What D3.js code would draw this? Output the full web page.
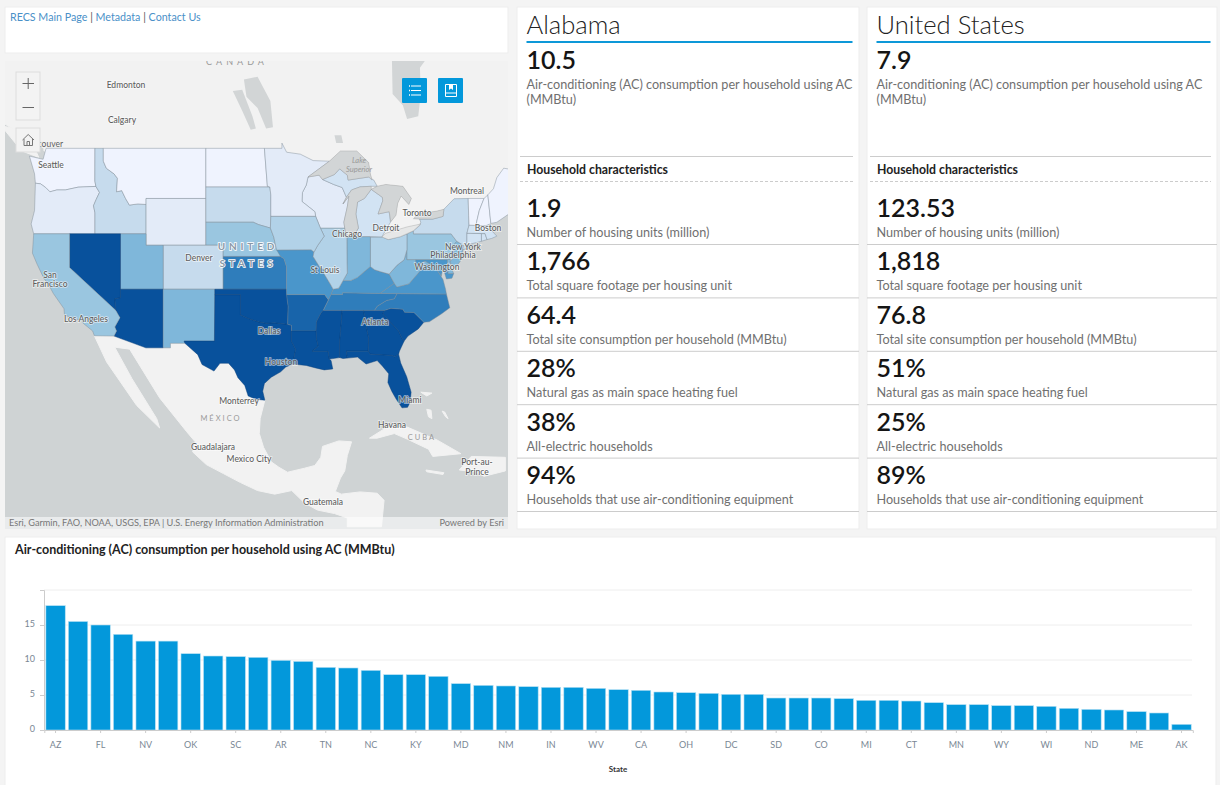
<!DOCTYPE html>
<html>

<head>
    <title>RECS state dashboard</title>
    <script src="https://cdnjs.cloudflare.com/ajax/libs/d3/7.8.5/d3.min.js"></script>
    <style>
        html, body { margin: 0; padding: 0; background: #f4f4f4; overflow: hidden; }
        svg { display: block; font-family: Lato, "Open Sans", sans-serif; }
    </style>
</head>

<body>
    <svg id="viz" width="1220" height="785"></svg>
    <script>
        // bar chart
        var states = ["AZ","TX","FL","LA","NV","MS","OK","AL","SC","GA","AR","HI","TN","VA","NC","MO","KY","DE","MD","KS","NM","UT","IN","IL","WV","NJ","CA","NE","OH","IA","DC","PA","SD","ID","CO","OR","MI","NY","CT","MA","MN","RI","WY","NH","WI","VT","ND","WA","ME","MT","AK"]
        var consumption = [17.76,15.5,15.0,13.67,12.7,12.7,10.9,10.57,10.48,10.38,9.95,9.8,8.95,8.86,8.52,7.9,7.9,7.67,6.62,6.38,6.29,6.19,6.1,6.1,5.95,5.76,5.67,5.43,5.33,5.24,5.1,5.1,4.57,4.57,4.57,4.48,4.24,4.24,4.14,3.9,3.62,3.62,3.48,3.48,3.38,3.1,2.95,2.86,2.62,2.43,0.81]
        var yTicks = [0, 5, 10, 15, 20]
        var xLabels = ["AZ","FL","NV","OK","SC","AR","TN","NC","KY","MD","NM","IN","WV","CA","OH","DC","SD","CO","MI","CT","MN","WY","WI","ND","ME","AK"]

        // cards
        var cardNames = ["Alabama", "United States"]
        var headlineLabel = ["Air-conditioning (AC) consumption per household using AC", "(MMBtu)"]
        var headlineValues = ["10.5", "7.9"]
        var rowLabels = ["Number of housing units (million)", "Total square footage per housing unit", "Total site consumption per household (MMBtu)", "Natural gas as main space heating fuel", "All-electric households", "Households that use air-conditioning equipment"]
        var alabamaValues = ["1.9", "1,766", "64.4", "28%", "38%", "94%"]
        var usValues = ["123.53", "1,818", "76.8", "51%", "25%", "89%"]

        // map classes, light to dark
        var mapColors = ["#eff3fe","#e3ebf8","#d2e3f3","#c6dbed","#b2d2e8","#9ac6e0","#7fb7da","#4a96cb","#2f7dbb","#1864aa","#08519c"]

        // outlines in [lon, lat]
        var statesGeo = {
            WA: [0, [[-124.7,48.4],[-123.1,48.15],[-122.75,49],[-117.03,49],[-117.04,46.42],[-116.92,45.99],[-119,45.93],[-120.5,45.7],[-121.5,45.7],[-122.3,45.55],[-122.8,45.9],[-123.4,46.2],[-124,46.25],[-124.1,47]]],
            OR: [1, [[-124,46.25],[-123.4,46.2],[-122.8,45.9],[-122.3,45.55],[-121.5,45.7],[-120.5,45.7],[-119,45.93],[-116.92,45.99],[-116.5,45.5],[-116.9,44.9],[-117.2,44.4],[-117.03,43.8],[-117.03,42],[-124.2,42],[-124.5,42.85],[-124.1,44]]],
            ID: [3, [[-117.03,49],[-116.05,49],[-116.05,48],[-115.7,47.45],[-114.8,47],[-114.4,46.65],[-114.5,45.55],[-113.9,45.65],[-113.45,45],[-113,44.45],[-112,44.55],[-111.05,44.5],[-111.05,42],[-117.03,42],[-117.03,43.8],[-117.2,44.4],[-116.9,44.9],[-116.5,45.5],[-116.92,45.99],[-117.04,46.42]]],
            MT: [0, [[-116.05,49],[-104.05,49],[-104.05,45],[-111.05,45],[-111.05,44.5],[-112,44.55],[-113,44.45],[-113.45,45],[-113.9,45.65],[-114.5,45.55],[-114.4,46.65],[-114.8,47],[-115.7,47.45],[-116.05,48]]],
            WY: [1, [[-111.05,45],[-104.05,45],[-104.05,41],[-111.05,41]]],
            ND: [0, [[-104.05,49],[-97.2,49],[-96.85,46],[-96.56,45.94],[-104.05,45.94]]],
            SD: [3, [[-104.05,45.94],[-96.56,45.94],[-96.45,45.3],[-96.45,43.5],[-96.5,42.5],[-97.9,42.8],[-98.5,43],[-104.05,43]]],
            NE: [5, [[-104.05,43],[-98.5,43],[-97.9,42.8],[-96.5,42.5],[-96.1,41.7],[-95.9,41],[-95.3,40],[-102.05,40],[-102.05,41],[-104.05,41]]],
            KS: [8, [[-102.05,40],[-95.3,40],[-94.9,39.8],[-94.62,39.1],[-94.62,37],[-102.05,37]]],
            CO: [3, [[-109.05,41],[-102.05,41],[-102.05,37],[-109.05,37]]],
            UT: [6, [[-114.05,42],[-111.05,42],[-111.05,41],[-109.05,41],[-109.05,37],[-114.05,37]]],
            NV: [10, [[-120,42],[-114.05,42],[-114.05,36.2],[-114.7,36.1],[-114.6,35],[-120,39]]],
            AZ: [10, [[-114.05,37],[-109.05,37],[-109.05,31.33],[-111.07,31.33],[-114.8,32.5],[-114.5,33],[-114.7,33.4],[-114.1,34.3],[-114.6,35],[-114.7,36.1],[-114.05,36.2]]],
            CA: [5, [[-124.2,42],[-120,42],[-120,39],[-114.6,35],[-114.1,34.3],[-114.7,33.4],[-114.5,33],[-114.8,32.5],[-117.1,32.53],[-117.3,33],[-118.4,33.75],[-118.5,34.03],[-119.2,34.15],[-120.6,34.55],[-120.65,35.15],[-121.9,36.6],[-122.5,37.5],[-123,38],[-123.8,39.3],[-124.35,40.3]]],
            NM: [6, [[-109.05,37],[-103,37],[-103.05,32],[-106.6,32],[-106.5,31.78],[-108.2,31.78],[-108.2,31.33],[-109.05,31.33]]],
            TX: [10, [[-103,36.5],[-100,36.5],[-100,34.56],[-99,34.2],[-97.9,33.9],[-97,33.75],[-96,33.8],[-94.48,33.65],[-94.04,33.55],[-94.04,31.99],[-93.55,31.2],[-93.7,30.5],[-93.85,29.7],[-94.7,29.4],[-95.3,28.9],[-96.4,28.35],[-97.2,27.7],[-97.4,26.9],[-97.15,25.96],[-98.2,26.05],[-99.1,26.4],[-99.5,27.5],[-100.3,28.3],[-100.7,29.1],[-101.4,29.77],[-102.4,29.77],[-103.1,28.98],[-104.5,29.65],[-105,30.65],[-106.5,31.78],[-106.6,32],[-103.05,32]]],
            OK: [10, [[-103,37],[-94.62,37],[-94.43,35.4],[-94.48,33.65],[-96,33.8],[-97,33.75],[-97.9,33.9],[-99,34.2],[-100,34.56],[-100,36.5],[-103,36.5]]],
            AR: [9, [[-94.62,36.5],[-90.15,36.5],[-89.7,36],[-90.3,35],[-90.6,34.7],[-91.1,33.9],[-91.15,33],[-94.04,33],[-94.04,33.55],[-94.48,33.65],[-94.43,35.4]]],
            MO: [7, [[-95.77,40.58],[-91.73,40.6],[-91.4,40.4],[-91.5,40],[-90.7,39],[-90.2,38.8],[-90.2,38.4],[-89.5,37.5],[-89.15,37],[-89.4,36.5],[-89.7,36],[-90.15,36.5],[-94.62,36.5],[-94.62,39.1],[-94.9,39.8],[-95.3,40]]],
            LA: [10, [[-94.04,33],[-91.15,33],[-91.1,32.2],[-90.9,31.5],[-91.6,31],[-89.75,31],[-89.6,30.2],[-89.4,30.05],[-89.2,29.2],[-90.2,29.1],[-91.2,29.3],[-92.3,29.55],[-93.85,29.7],[-93.7,30.5],[-93.55,31.2],[-94.04,31.99]]],
            MS: [10, [[-91.15,33],[-91.1,33.9],[-90.6,34.7],[-90.3,35],[-88.2,35],[-88.1,34.9],[-88.4,31.9],[-88.4,30.35],[-89.6,30.2],[-89.75,31],[-91.6,31],[-90.9,31.5],[-91.1,32.2]]],
            AL: [10, [[-88.2,35],[-85.6,35],[-85.15,32.9],[-85,32.3],[-85.05,31],[-87.6,31],[-87.5,30.3],[-88,30.25],[-88.4,30.35],[-88.4,31.9],[-88.1,34.9]]],
            GA: [10, [[-85.6,35],[-83.1,35],[-83.35,34.7],[-82.5,33.9],[-81.5,33],[-81,32.1],[-80.85,32],[-81.4,31],[-81.5,30.7],[-82,30.4],[-82.2,30.55],[-84.85,30.7],[-85.05,31],[-85,32.3],[-85.15,32.9]]],
            FL: [10, [[-87.6,31],[-85.05,31],[-84.85,30.7],[-82.2,30.55],[-82,30.4],[-81.5,30.7],[-81.25,29.8],[-80.55,28.4],[-80.03,26.8],[-80.15,25.75],[-80.45,25.2],[-81.1,25.15],[-81.8,26.1],[-82.3,26.9],[-82.75,27.8],[-82.65,28.7],[-83.4,29.5],[-84,30.05],[-85.3,29.7],[-86.3,30.4],[-87.5,30.3]]],
            SC: [10, [[-83.35,34.7],[-83.1,35],[-82.4,35.2],[-81,35.1],[-80.8,34.82],[-79.7,34.8],[-78.55,33.85],[-79.2,33.2],[-80.4,32.5],[-80.85,32],[-81,32.1],[-81.5,33],[-82.5,33.9]]],
            NC: [8, [[-81.68,36.59],[-75.9,36.55],[-75.5,35.25],[-76.5,34.65],[-77.9,33.9],[-78.55,33.85],[-79.7,34.8],[-80.8,34.82],[-81,35.1],[-82.4,35.2],[-83.1,35],[-84.32,35],[-84,35.4],[-82.9,35.95],[-82,36.1]]],
            TN: [8, [[-89.4,36.5],[-88.05,36.5],[-88.05,36.68],[-83.68,36.6],[-81.68,36.59],[-82,36.1],[-82.9,35.95],[-84,35.4],[-84.32,35],[-85.6,35],[-88.2,35],[-90.3,35],[-89.7,36]]],
            KY: [7, [[-89.4,36.5],[-89.15,37],[-88.5,37.1],[-88,37.8],[-87.1,37.8],[-86.3,38.1],[-85.4,38.7],[-84.8,39.1],[-84.3,38.8],[-83.65,38.63],[-82.6,38.4],[-82,37.55],[-83.68,36.6],[-88.05,36.68],[-88.05,36.5]]],
            VA: [7, [[-83.68,36.6],[-82,37.55],[-81.7,37.2],[-80.3,37.5],[-79.3,38.4],[-78.4,39.2],[-77.75,39.3],[-77.05,38.85],[-76.3,37.9],[-76,37],[-75.9,36.55],[-81.68,36.59]]],
            WV: [6, [[-82.6,38.4],[-81.7,39.2],[-80.85,39.7],[-80.52,40.6],[-80.52,39.72],[-79.48,39.72],[-79.48,39.2],[-78.4,39.6],[-77.75,39.3],[-78.4,39.2],[-79.3,38.4],[-80.3,37.5],[-81.7,37.2],[-82,37.55]]],
            MD: [7, [[-79.48,39.72],[-75.79,39.72],[-75.7,38.45],[-75.05,38.45],[-75.25,38.03],[-75.9,37.95],[-76.3,39],[-76.5,38.2],[-77.05,38.85],[-77.75,39.3],[-78.4,39.6],[-79.48,39.2]]],
            DE: [6, [[-75.79,39.72],[-75.45,39.8],[-75.4,39.1],[-75.05,38.45],[-75.7,38.45]]],
            PA: [5, [[-80.52,41.98],[-79.76,42.27],[-79.76,42],[-75.35,42],[-74.7,41.35],[-75.1,40.95],[-75.1,40.2],[-74.75,40.2],[-75.45,39.8],[-75.79,39.72],[-80.52,39.72]]],
            NJ: [6, [[-75.1,40.95],[-74.7,41.35],[-73.9,41],[-74,40.45],[-74.1,39.75],[-74.9,38.95],[-75.5,39.5],[-74.75,40.2],[-75.1,40.2]]],
            NY: [3, [[-79.76,42.27],[-79.05,42.7],[-78.9,43],[-79.05,43.27],[-77.5,43.27],[-76.3,43.5],[-76.2,44.1],[-75,44.98],[-73.35,45],[-73.3,43.6],[-73.25,42.75],[-73.5,42.05],[-73.5,41.3],[-73.65,41],[-72,41.05],[-74,40.6],[-73.9,41],[-74.7,41.35],[-75.35,42],[-79.76,42]]],
            CT: [2, [[-73.5,42.05],[-71.8,42.02],[-71.8,41.35],[-73.65,41],[-73.5,41.3]]],
            RI: [2, [[-71.8,42.02],[-71.38,42.02],[-71.15,41.5],[-71.8,41.35]]],
            MA: [2, [[-73.25,42.75],[-71.3,42.7],[-70.8,42.85],[-70.65,42.3],[-70,41.8],[-70.6,41.6],[-71.15,41.5],[-71.38,42.02],[-73.5,42.05]]],
            VT: [0, [[-73.35,45],[-71.5,45],[-72.05,44],[-72.46,42.73],[-73.25,42.75],[-73.3,43.6]]],
            NH: [0, [[-71.5,45],[-71.05,45.3],[-70.7,42.9],[-70.8,42.85],[-71.3,42.7],[-72.46,42.73],[-72.05,44]]],
            ME: [0, [[-71.05,45.3],[-70.4,45.8],[-70,46.7],[-69.2,47.45],[-68.3,47.35],[-67.8,47.05],[-67.8,45.7],[-67,44.9],[-67.5,44.2],[-68.5,43.75],[-70,43],[-70.7,42.9]]],
            OH: [4, [[-84.8,41.7],[-83.45,41.73],[-82.7,41.5],[-81.3,41.75],[-80.52,41.98],[-80.52,40.6],[-80.85,39.7],[-81.7,39.2],[-82.6,38.4],[-83.65,38.63],[-84.3,38.8],[-84.8,39.1]]],
            IN: [6, [[-87.53,41.7],[-86.8,41.76],[-84.8,41.76],[-84.8,39.1],[-85.4,38.7],[-86.3,38.1],[-87.1,37.8],[-88,37.8],[-87.5,38.5],[-87.53,39.4]]],
            IL: [4, [[-90.65,42.5],[-87.8,42.5],[-87.55,41.7],[-87.53,39.4],[-87.5,38.5],[-88,37.8],[-88.5,37.1],[-89.15,37],[-89.5,37.5],[-90.2,38.4],[-90.2,38.8],[-90.7,39],[-91.5,40],[-91.4,40.4],[-90.95,41],[-90.2,41.8]]],
            WI: [1, [[-92.1,46.75],[-90.8,46.9],[-90.4,46.55],[-89.1,46.15],[-88.1,45.9],[-87.6,45.1],[-88,44.55],[-87.3,45.2],[-87.5,44.3],[-87.9,43],[-87.8,42.5],[-90.65,42.5],[-91.2,43.5],[-91.3,43.9],[-92.8,44.75],[-92.75,45.5],[-92.3,46.1]]],
            MN: [1, [[-97.2,49],[-95.15,49],[-95.15,49.4],[-94.6,48.7],[-93,48.55],[-91.5,48.05],[-89.6,48],[-92.1,46.75],[-92.3,46.1],[-92.75,45.5],[-92.8,44.75],[-91.3,43.9],[-91.2,43.5],[-96.45,43.5],[-96.45,45.3],[-96.56,45.94],[-96.85,46]]],
            IA: [4, [[-96.45,43.5],[-91.2,43.5],[-90.65,42.5],[-90.2,41.8],[-90.95,41],[-91.4,40.4],[-91.73,40.6],[-95.77,40.58],[-95.9,41],[-96.1,41.7],[-96.5,42.5]]],
            MI: [2, [[-86.8,41.76],[-84.8,41.76],[-83.45,41.73],[-83.1,42.2],[-82.45,43],[-82.6,43.9],[-83.9,43.7],[-83.35,44.8],[-83.4,45.1],[-84.7,45.75],[-85.5,45],[-86.3,44.7],[-86.5,43.7],[-86.2,42.5]]],
            MIU: [2, [[-90.4,46.55],[-89,46.95],[-88.4,47.4],[-87.5,46.9],[-87.4,46.5],[-86,46.65],[-85,46.75],[-84.4,46.5],[-84,46],[-84.7,46],[-86,45.95],[-87,45.7],[-87.6,45.1],[-88.1,45.9],[-89.1,46.15]]]
        }

        var landGeo = [
            [[-135,56],[-135,53],[-128,51],[-125.5,50],[-123,49],[-123,48.8],[-100,46],[-84,42],[-79,41],[-73,42],[-70,43.5],[-68.4,44],[-60,45],[-60,56]],
            [[-123.6,48.3],[-125.6,48.8],[-128,50.7],[-125,50.3]],
            [[-117.1,32.53],[-114.8,32.5],[-111.07,31.33],[-108.2,31.33],[-108.2,31.78],[-106.5,31.78],[-105,30.65],[-104.5,29.65],[-103.1,28.98],[-102.4,29.77],[-101.4,29.77],[-100.7,29.1],[-100.3,28.3],[-99.5,27.5],[-99.1,26.4],[-98.2,26.05],[-97.15,25.96],[-97.7,24],[-97.8,22.4],[-97.3,20.9],[-96.4,19.3],[-95.5,18.7],[-94.5,18.15],[-92.5,18.6],[-91.3,18.9],[-90.6,19.8],[-90.4,21],[-88.5,21.6],[-87,21.5],[-87.5,20],[-87.8,18.3],[-88.3,17.5],[-88.9,16],[-88.2,15.7],[-86,15.95],[-84,15.8],[-83.2,15],[-83.5,12],[-87.5,12],[-87.5,13],[-89,13.5],[-91,13.9],[-92.5,14.7],[-94,16.1],[-96,15.7],[-98,16.1],[-100,17],[-102,18],[-104,19],[-105.6,20.4],[-105.3,21.5],[-106.3,22.6],[-109.46,26.2],[-112.97,31.2],[-114.72,31.4],[-112.7,28.2],[-109.8,24],[-109.46,23],[-112.15,25.4],[-115.66,29.9]],
            [[-84.9,21.9],[-83,23],[-80.5,23.1],[-77,21.7],[-74.2,20.2],[-77.5,19.9],[-78,20.7],[-80.5,21.8],[-82,22.4],[-84,21.9]],
            [[-74.4,18.4],[-73,19.9],[-69,19.8],[-69,18.3],[-71.5,17.7],[-72.5,18.2]],
            [[-78.3,18.4],[-76.2,18.1],[-76.3,17.9],[-78.2,18.2]],
            [[-78.9,26.8],[-77.6,26.7],[-78.2,26.4]],
            [[-78.2,25],[-77.7,24.9],[-77.6,24],[-78,24.2]],
            [[-76.4,24.8],[-76.1,24.7],[-75.7,24],[-76,24.2]]
        ]

        var lakesGeo = [
            [[-92.1,46.75],[-90.8,46.9],[-90.4,46.55],[-89,46.95],[-88.4,47.4],[-87.5,46.9],[-87.4,46.5],[-86,46.65],[-85,46.75],[-84.6,46.5],[-84.8,47],[-85,47.9],[-86.4,48.8],[-88.3,48.8],[-89.6,48]],
            [[-87.6,45.1],[-87,45.7],[-86,45.95],[-84.7,46],[-84.7,45.75],[-85.5,45],[-86.3,44.7],[-86.5,43.7],[-86.2,42.5],[-86.8,41.76],[-87.55,41.7],[-87.8,42.5],[-87.9,43],[-87.5,44.3],[-87.3,45.2],[-88,44.55]],
            [[-84.7,45.75],[-84,46],[-83,46.15],[-81,46],[-80,45],[-80.3,44.5],[-81.2,45.2],[-81.6,44.6],[-81.8,43.6],[-82.4,43.05],[-82.6,43.9],[-83.9,43.7],[-83.35,44.8],[-83.4,45.1]],
            [[-79.76,43.3],[-79.05,43.27],[-77.5,43.27],[-76.3,43.5],[-76.2,44.1],[-77,43.95],[-79.2,43.7]],
            [[-83.45,41.73],[-82.7,41.5],[-81.3,41.75],[-79.76,42.27],[-78.9,42.85],[-80.5,42.6],[-83,42.05]],
            [[-82.3,56],[-82.2,53],[-81,52.2],[-80.5,51.2],[-79.2,51.4],[-78.9,53],[-79,54.8],[-77.5,56]],
            [[-99.6,54],[-98,54.2],[-96.5,52.5],[-96.2,50.6],[-97,50.5],[-98,52],[-99.3,52.8]],
            [[-100.9,53.2],[-99.8,53.3],[-98.6,51.4],[-98.2,50.5],[-98.8,50.4],[-99.8,51.8]],
            [[-89,50],[-88.2,50],[-88,49.4],[-88.8,49.4]]
        ]
        var erie = lakesGeo[4]

        var mapLabels = [
            ["Edmonton",126,86],["Calgary",122,121],["Seattle",51,166],["Montreal",467,192],["Toronto",417,214],["Boston",488,229],
            ["Chicago",347,235],["Detroit",386,229],["New York",463,248],["Philadelphia",453,256],["Washington",437,268],["Denver",199,259],
            ["St Louis",325,271],["San",50,276],["Francisco",50,285],["Los Angeles",86,320],["Dallas",269,332],["Houston",281,363],
            ["Atlanta",375,323],["Miami",410,401],["Monterrey",239,402],["Havana",392,426],["Guadalajara",213,448],["Mexico City",249,460],
            ["Port-au-",477,463],["Prince",477,473],["Guatemala",323,503]
        ]
        var countryLabels = [["CANADA",237,63],["MÉXICO",221,419],["CUBA",422,438]]

        var svg = d3.select("#viz")

        function panel(x, y, w, h) {
            svg.append("rect").attr("x", x).attr("y", y).attr("width", w).attr("height", h)
                .attr("fill", "white").attr("stroke", "#ededed")
        }

        // links panel
        panel(5, 7, 503, 46)
        var links = svg.append("text").attr("x", 10).attr("y", 21).style("font-size", "10.7px").attr("fill", "#4a90c8")
        links.append("tspan").text("RECS Main Page ")
        links.append("tspan").attr("fill", "#555").text("| ")
        links.append("tspan").text("Metadata ")
        links.append("tspan").attr("fill", "#555").text("| ")
        links.append("tspan").text("Contact Us")

        // map
        var mercator = d3.geoMercator().scale(489.6).translate([1095, 630])
        var outline = pts => d3.line()(pts.map(p => mercator(p))) + "Z"

        svg.append("clipPath").attr("id", "mapClip").append("rect")
            .attr("x", 5).attr("y", 61).attr("width", 503).attr("height", 468)

        var map = svg.append("g").attr("clip-path", "url(#mapClip)")
        map.append("rect").attr("x", 5).attr("y", 61).attr("width", 503).attr("height", 468).attr("fill", "#cfd3d4")
        map.selectAll("path.land").data(landGeo).enter().append("path").attr("class", "land")
            .attr("d", outline).attr("fill", "#f2f2f2").attr("stroke", "#f2f2f2")
        map.selectAll("path.lake").data(lakesGeo).enter().append("path").attr("class", "lake")
            .attr("d", outline).attr("fill", d => d === erie ? "#e6e7e7" : "#d2d5d6")
        map.selectAll("path.state").data(Object.entries(statesGeo)).enter().append("path").attr("class", "state")
            .attr("d", d => outline(d[1][1]))
            .attr("fill", d => mapColors[d[1][0]])
            .attr("stroke", d => d[1][0] == 10 ? "#0a3f78" : "#7d8a96")
            .attr("stroke-width", 0.6).attr("stroke-opacity", 0.75)
        // lakes again, they cut into the state shapes along the shore
        map.selectAll("path.lake2").data(lakesGeo.slice(0, 5)).enter().append("path").attr("class", "lake2")
            .attr("d", outline).attr("fill", d => d === erie ? "#e6e7e7" : "#d2d5d6").attr("stroke", "#888").attr("stroke-width", 0.3)

        // attribution strip
        map.append("rect").attr("x", 5).attr("y", 517).attr("width", 503).attr("height", 12).attr("fill", "white").attr("opacity", 0.55)

        var haloText = function (sel) {
            return sel.attr("text-anchor", "middle").attr("dominant-baseline", "middle")
                .attr("stroke", "white").attr("stroke-width", 1.6).attr("stroke-opacity", 0.6).attr("paint-order", "stroke")
        }
        map.selectAll("text.city").data(mapLabels).enter().append("text").attr("class", "city")
            .call(haloText)
            .attr("x", d => d[1]).attr("y", d => d[2])
            .attr("fill", "#5f5f5f").style("font-size", "8.5px").style("font-weight", 500)
            .text(d => d[0])
        map.append("text").attr("x", 63).attr("y", 145).attr("text-anchor", "end").attr("dominant-baseline", "middle")
            .attr("fill", "#5f5f5f").style("font-size", "8.5px").text("couver")
        map.selectAll("text.country").data(countryLabels).enter().append("text").attr("class", "country")
            .attr("text-anchor", "middle").attr("dominant-baseline", "middle")
            .attr("x", d => d[1]).attr("y", d => d[2])
            .attr("fill", "#9a9a9a").style("font-size", d => d[0] == "CANADA" ? "9px" : "7.5px").style("letter-spacing", d => d[0] == "CANADA" ? "4px" : "2px")
            .text(d => d[0])
        map.selectAll("text.lakeName").data([["Lake",359,161],["Superior",359,170]]).enter().append("text").attr("class", "lakeName")
            .attr("text-anchor", "middle").attr("dominant-baseline", "middle")
            .attr("x", d => d[1]).attr("y", d => d[2])
            .attr("fill", "#999").style("font-size", "7.5px").style("font-style", "italic")
            .text(d => d[0])
        map.selectAll("text.usName").data([["UNITED",248,247],["STATES",248,264]]).enter().append("text").attr("class", "usName")
            .attr("text-anchor", "middle").attr("dominant-baseline", "middle")
            .attr("x", d => d[1]).attr("y", d => d[2])
            .attr("fill", "#8a98a6").attr("stroke", "white").attr("stroke-width", 1.5).attr("paint-order", "stroke")
            .style("font-size", "10px").style("font-weight", 700).style("letter-spacing", "3.8px")
            .text(d => d[0])

        map.append("text").attr("x", 9).attr("y", 526).attr("fill", "#777").style("font-size", "9.2px")
            .text("Esri, Garmin, FAO, NOAA, USGS, EPA | U.S. Energy Information Administration")
        map.append("text").attr("x", 504).attr("y", 526).attr("text-anchor", "end").attr("fill", "#777").style("font-size", "9.2px")
            .text("Powered by Esri")

        // zoom widget
        var widget = svg.append("g")
        widget.append("rect").attr("x", 16).attr("y", 72).attr("width", 24).attr("height", 48).attr("fill", "#f3f3f3").attr("stroke", "#ddd")
        widget.append("path").attr("d", "M22.5 83.5H34M28.2 78V89M22.5 107.5H34").attr("stroke", "#666").attr("fill", "none")
        widget.append("rect").attr("x", 16).attr("y", 128).attr("width", 24).attr("height", 24).attr("fill", "#f3f3f3").attr("stroke", "#ddd")
        widget.append("path").attr("d", "M22.5 140L28.2 134.5L34 140M24 139V145.5H32.5V139M27 145.5V141.5H29.5V145.5").attr("stroke", "#777").attr("fill", "none")

        // list and bookmark buttons
        svg.append("rect").attr("x", 402).attr("y", 78).attr("width", 25).attr("height", 25).attr("rx", 1).attr("fill", "#0398db")
        svg.append("path").attr("d", "M411 86H421M411 90.5H421M411 95H421").attr("stroke", "white").attr("stroke-width", 1).attr("fill", "none")
        svg.append("path").attr("d", "M409 86H410M409 90.5H410M409 95H410").attr("stroke", "white").attr("stroke-width", 1.5).attr("fill", "none")
        svg.append("rect").attr("x", 438).attr("y", 78).attr("width", 25).attr("height", 25).attr("rx", 1).attr("fill", "#0398db")
        svg.append("path").attr("d", "M445.5 84.5H456.5V96.5H445.5ZM445.5 93H456.5").attr("stroke", "white").attr("fill", "none")
        svg.append("path").attr("d", "M449 84.5H453V90L451 88.5L449 90Z").attr("fill", "white")

        // cards, the right one is a little wider
        function drawCard(x, w, name, headline, values) {
            var g = svg.append("g").attr("transform", `translate(${x},0)`)
            g.append("rect").attr("x", 0).attr("y", 7).attr("width", w).attr("height", 522).attr("fill", "white").attr("stroke", "#ededed")
            g.append("text").attr("x", 9.5).attr("y", 34).attr("fill", "#222").style("font-size", "25.6px").style("font-weight", 300).text(name)
            g.append("rect").attr("x", 9.5).attr("y", 41).attr("width", w - 16).attr("height", 2).attr("fill", "#0d98d8")
            g.append("text").attr("x", 9.5).attr("y", 69).attr("fill", "#151515").style("font-size", "25px").style("font-weight", 600).text(headline)
            g.selectAll("text.head").data(headlineLabel).enter().append("text").attr("class", "head")
                .attr("x", 9.5).attr("y", (d, i) => 89 + i * 15).attr("fill", "#707070").style("font-size", "12.65px").text(d => d)
            g.append("line").attr("x1", 3).attr("x2", w - 6).attr("y1", 156.5).attr("y2", 156.5).attr("stroke", "#ccc")
            g.append("text").attr("x", 10).attr("y", 173.5).attr("fill", "#222").style("font-size", "12.25px").style("font-weight", 700).text("Household characteristics")
            g.append("line").attr("x1", 3).attr("x2", w - 6).attr("y1", 181.5).attr("y2", 181.5).attr("stroke", "#ccc").attr("stroke-dasharray", "3 2")

            var rows = g.selectAll("g.row").data(values).enter().append("g").attr("class", "row")
                .attr("transform", (d, i) => `translate(0,${i * 53.4})`)
            rows.append("text").attr("x", 9.5).attr("y", 217).attr("fill", "#151515").style("font-size", "25px").style("font-weight", 600).text(d => d)
            rows.append("text").attr("x", 9.5).attr("y", 237).attr("fill", "#707070").style("font-size", "12.65px").text((d, i) => rowLabels[i])
            rows.append("line").attr("x1", 0).attr("x2", w).attr("y1", 244.5).attr("y2", 244.5).attr("stroke", "#ccc")
        }
        drawCard(517, 342, cardNames[0], headlineValues[0], alabamaValues)
        drawCard(867, 350, cardNames[1], headlineValues[1], usValues)

        // bar chart
        panel(5, 537, 1211, 249)
        svg.append("text").attr("x", 15).attr("y", 554).attr("fill", "#222").style("font-size", "12.5px").style("font-weight", 700)
            .text("Air-conditioning (AC) consumption per household using AC (MMBtu)")

        var x = d3.scaleBand().domain(states).range([44.3, 1192.8]).paddingInner(0.14).paddingOuter(0.07)
        var y = d3.scaleLinear().domain([0, 20]).range([730, 590])

        svg.append("g").selectAll("line").data(yTicks).enter().append("line")
            .attr("x1", 44).attr("x2", 1192).attr("y1", d => y(d)).attr("y2", d => y(d))
            .attr("stroke", "#eee")

        var yAxis = svg.append("g").attr("transform", "translate(44,0)")
            .call(d3.axisLeft(y).tickValues(yTicks).tickSize(4).tickFormat(d => d == 20 ? "" : d))
        yAxis.select(".domain").attr("stroke", "#ccc")
        yAxis.selectAll(".tick line").attr("stroke", "#ccc")
        yAxis.selectAll("text").attr("x", -9).attr("dy", "0.2em").attr("fill", "#7a8794").style("font-family", "Lato").style("font-size", "9px")

        svg.append("g").selectAll("rect").data(states).enter().append("rect")
            .attr("x", d => x(d))
            .attr("y", (d, i) => y(consumption[i]))
            .attr("width", x.bandwidth())
            .attr("height", (d, i) => y(0) - y(consumption[i]))
            .attr("fill", "#0398db").attr("stroke", "#b5e0f3").attr("stroke-width", 0.6)

        var xAxis = svg.append("g").attr("transform", "translate(0,730)")
            .call(d3.axisBottom(x).tickValues(xLabels).tickSize(3))
        xAxis.select(".domain").attr("stroke", "#ccc")
        xAxis.selectAll(".tick line").attr("stroke", "#ccc")
        xAxis.selectAll("text").attr("y", 12).attr("fill", "#7a8794").style("font-family", "Lato").style("font-size", "9px")

        svg.append("text").attr("x", 618).attr("y", 772).attr("text-anchor", "middle").attr("fill", "#333")
            .style("font-size", "8px").style("font-weight", 700).text("State")
    </script>
</body>

</html>
